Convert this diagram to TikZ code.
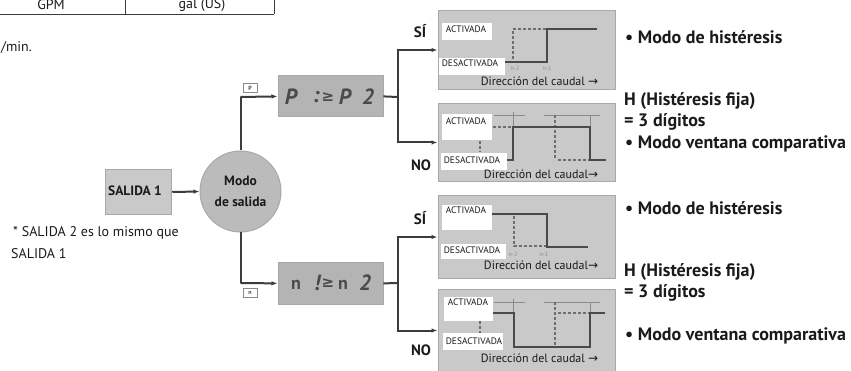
\documentclass[tikz,border=0pt]{standalone}
\usepackage{fontspec}
\setmainfont{PT Sans}
\newfontfamily\symfont{DejaVu Sans}
\usetikzlibrary{arrows.meta}
\definecolor{panelgray}{HTML}{C9C9C9}
\definecolor{boxgray}{HTML}{B4B4B4}
\definecolor{edgegray}{HTML}{A8A8A8}
\definecolor{linedark}{HTML}{3C3C3C}
\definecolor{curve}{HTML}{4A4A4A}
\definecolor{thin}{HTML}{8A8A8A}
\definecolor{txt}{HTML}{1A1A1A}
\tikzset{
  x=1pt,y=-1pt,
  every node/.style={text=txt,inner sep=0pt,font=\fontsize{14}{16}\selectfont},
  conn/.style={draw=linedark,line width=2pt},
  arr/.style={conn,-{Latex[length=6pt,width=4.5pt]}},
  panel/.style={draw=edgegray,line width=1pt,fill=panelgray,anchor=north west},
  dispbox/.style={draw=edgegray,line width=.8pt,fill=boxgray,anchor=north west,minimum width=105pt,minimum height=41pt},
  whitebox/.style={fill=white,anchor=north west},
  small/.style={font=\fontsize{9.4}{11}\selectfont},
  flow/.style={font=\fontsize{12}{14}\selectfont},
  lab/.style={font=\bfseries\fontsize{18}{20}\selectfont,anchor=west},
  yn/.style={font=\bfseries\fontsize{15}{17}\selectfont},
  solidc/.style={draw=curve,line width=1.6pt},
  dashc/.style={draw=curve!80,line width=1.4pt,dash pattern=on 3pt off 2pt},
  thinc/.style={draw=thin,line width=.8pt},
  seg/.style={font=\bfseries\itshape\fontsize{22}{22}\selectfont,text=curve},
  segn/.style={font=\bfseries\fontsize{18}{18}\selectfont,text=curve},
  geq/.style={font=\symfont\bfseries\fontsize{15}{15}\selectfont,text=curve},
  tag/.style={draw=thin,line width=.5pt,font=\bfseries\fontsize{6}{6}\selectfont,text=curve,minimum width=14pt,minimum height=9pt},
  tiny/.style={font=\fontsize{6}{6}\selectfont,text=thin}
}
\newcommand{\flowarrow}{{\symfont →}}
\begin{document}
\begin{tikzpicture}
\useasboundingbox (0,0) rectangle (851,371);
% table fragment
\begin{scope}
\clip (0,0) rectangle (851,371);
\draw[draw=linedark,line width=1pt] (0,14.5) -- (274,14.5) (274,0) -- (274,14.5) (125,0) -- (125,14.5);
\node (t1) at (51,5) {GPM};
\node (t2) at (202,5) {gal (US)};
\node[anchor=east] (t3) at (32,47) {/min.};
\end{scope}
% left
\node[draw=edgegray,line width=1.5pt,fill=panelgray,minimum width=66pt,minimum height=45pt] (out) at (138.5,192) {};
\node[font=\bfseries\fontsize{13.5}{16}\selectfont] (outl) at (135,190.5) {SALIDA 1};
\node[circle,draw=edgegray,line width=1pt,fill=boxgray!90!white,minimum size=81pt,align=center,font=\bfseries\fontsize{13.5}{21}\selectfont] (mode) at (240.5,191.5) {Modo\\de salida};
\node[anchor=west] (note1) at (13,233) {* SALIDA 2 es lo mismo que};
\node[anchor=west] (note2) at (11,254) {SALIDA 1};
% displays
\node[dispbox] (d1) at (277.5,75.5) {};
\node[dispbox] (d2) at (277.5,262.5) {};
\node[seg] (d1a) at (291,97) {P};
\node[seg] (d1b) at (316,97) {:};
\node[geq] (d1c) at (328,97) {≥};
\node[seg] (d1d) at (345,97) {P};
\node[seg] (d1e) at (368,97) {2};
\node[segn] (d2a) at (296,285) {n};
\node[seg] (d2b) at (317,283) {!};
\node[geq] (d2c) at (328,283) {≥};
\node[segn] (d2d) at (343,285) {n};
\node[seg] (d2e) at (365,283) {2};
\node[tag] (tp) at (250,88) {P};
\node[tag] (tn) at (250,293) {n};
% panels
\node[panel,minimum width=177pt,minimum height=79pt] (p1) at (437.5,10) {};
\node[panel,minimum width=177pt,minimum height=78pt] (p2) at (437.5,103) {};
\node[panel,minimum width=177pt,minimum height=83pt] (p3) at (437.5,195) {};
\node[panel,minimum width=177pt,minimum height=82pt] (p4) at (437.5,289) {};
% connectors
\coordinate (c1) at (240.5,97);
\coordinate (c2) at (240.5,283);
\coordinate (j1) at (398,97);
\coordinate (j2) at (398,283);
\draw[arr] (out.east) -- (mode.west);
\draw[conn] (mode.north) -- (c1);
\draw[arr] (c1) -- (d1.west);
\draw[conn] (mode.south) -- (c2);
\draw[arr] (c2) -- (d2.west);
\draw[conn] (d1.east) -- (j1);
\draw[conn] (d2.east) -- (j2);
\draw[arr] (j1) |- (p1.west);
\draw[arr] (j1) |- (p2.west);
\draw[arr] (j2) |- (p3.west);
\draw[arr] (j2) |- (p4.west);
% panel 1 graph
\draw[dashc] (513,29) -- (547,29);
\draw[dashc] (513,31) -- (513,60);
\draw[solidc] (505,62) -- (547,62) -- (547,29) -- (597,29);
\node[tiny] (g1a) at (515,68) {n-2};
\node[tiny] (g1b) at (547,68) {n-1};
% panel 2 graph
\draw[thinc] (494,115) -- (525,115) (544,115) -- (600,115) (513,112) -- (513,160) (590,115) -- (590,160);
\draw[dashc] (493,127) -- (513,127) (480,141) -- (480,152) (555,115) -- (555,160) (558,160) -- (590,160);
\draw[solidc] (507,160) -- (513,160) -- (513,127) -- (590,127) -- (590,160) -- (606,160);
% panel 3 graph
\draw[dashc] (514,216) -- (514,246) -- (547,246);
\draw[solidc] (492,214) -- (547,214) -- (547,247) -- (588,247);
\node[tiny] (g3a) at (513,254) {n-2};
\node[tiny] (g3b) at (544,254) {n-1};
% panel 4 graph
\draw[thinc] (494,302) -- (525,302) (544,302) -- (600,302) (513,299) -- (513,347) (590,302) -- (590,347);
\draw[dashc] (480,321) -- (480,333) (555,302) -- (555,347) (558,313) -- (590,313);
\draw[solidc] (493,313) -- (514,313) -- (514,347) -- (590,347) -- (590,313) -- (605,313);
% white labels
\node[whitebox,minimum width=50pt,minimum height=17pt] (a1) at (442,23) {};
\node[small] (a1t) at (466,29) {ACTIVADA};
\node[whitebox,minimum width=66pt,minimum height=17pt] (b1) at (439,58) {};
\node[small] (b1t) at (470,63.5) {DESACTIVADA};
\node[whitebox,minimum width=50pt,minimum height=26pt] (a2) at (442,114) {};
\node[small] (a2t) at (466,121.5) {ACTIVADA};
\node[whitebox,minimum width=66pt,minimum height=17pt] (b2) at (441,153) {};
\node[small] (b2t) at (472,160) {DESACTIVADA};
\node[whitebox,minimum width=50pt,minimum height=25pt] (a3) at (442,205) {};
\node[small] (a3t) at (466,210.5) {ACTIVADA};
\node[whitebox,minimum width=65pt,minimum height=15pt] (b3) at (441,244) {};
\node[small] (b3t) at (472,250) {DESACTIVADA};
\node[whitebox,minimum width=49pt,minimum height=24pt] (a4) at (444,297) {};
\node[small] (a4t) at (468,302.5) {ACTIVADA};
\node[whitebox,minimum width=60pt,minimum height=17pt] (b4) at (443,333) {};
\node[small] (b4t) at (474,341) {DESACTIVADA};
% flow text
\node[flow] (f1) at (539.5,81) {Dirección del caudal \flowarrow};
\node[flow] (f2) at (541,174) {Dirección del caudal\flowarrow};
\node[flow] (f3) at (541,265) {Dirección del caudal\flowarrow};
\node[flow] (f4) at (539.5,358) {Dirección del caudal \flowarrow};
% yes no
\node[yn] (s1) at (420,31) {SÍ};
\node[yn] (n1) at (421,165) {NO};
\node[yn] (s2) at (420,218) {SÍ};
\node[yn] (n2) at (421,350) {NO};
% right labels
\node[lab] (l1) at (625,37) {• Modo de histéresis};
\node[lab] (l2) at (624,101) {H (Histéresis fija)};
\node[lab] (l3) at (624,122) {= 3 dígitos};
\node[lab] (l4) at (625,144) {• Modo ventana comparativa};
\node[lab] (l5) at (625,208) {• Modo de histéresis};
\node[lab] (l6) at (624,272) {H (Histéresis fija)};
\node[lab] (l7) at (624,293) {= 3 dígitos};
\node[lab] (l8) at (625,336) {• Modo ventana comparativa};
\end{tikzpicture}
\end{document}
